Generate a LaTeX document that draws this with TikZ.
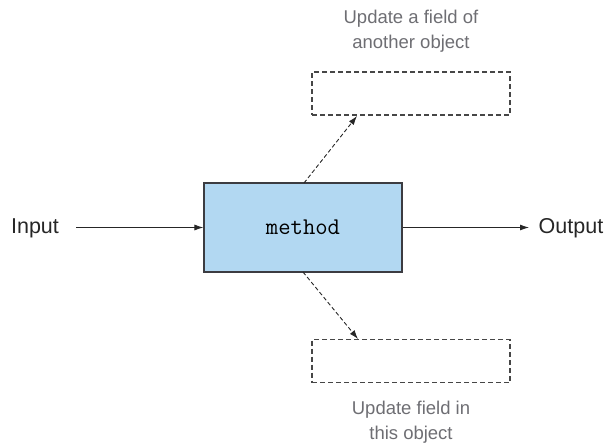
\documentclass[tikz,border=0pt]{standalone}
\usepackage{fontspec}
\setmainfont{Liberation Sans}
\usetikzlibrary{arrows.meta}
\definecolor{boxblue}{RGB}{178,216,242}
\definecolor{edgegray}{RGB}{60,60,65}
\definecolor{txtgray}{RGB}{110,110,115}
\definecolor{dashgray}{RGB}{70,70,70}
\tikzset{
  methodbox/.style={draw=edgegray, line width=1.1pt, fill=boxblue, minimum width=198pt, minimum height=89pt, inner sep=0pt},
  fieldbox/.style={draw=dashgray, line width=1.1pt, dash pattern=on 5pt off 3pt, minimum width=198pt, minimum height=43pt, inner sep=0pt},
  lbl/.style={font=\fontsize{21.5}{24}\selectfont, text=black!85, inner sep=0pt},
  note/.style={font=\fontsize{18.5}{25}\selectfont, text=txtgray, align=center, inner sep=0pt},
  flow/.style={line width=0.9pt, draw=black!85, -{Latex[length=9pt,width=6pt]}},
  sideflow/.style={line width=0.9pt, draw=black!85, dash pattern=on 4pt off 2.5pt, -{Latex[length=9pt,width=6pt]}}
}
\begin{document}
\begin{tikzpicture}[x=1pt,y=-1pt]
\useasboundingbox (0,0) rectangle (604,445);
\node[methodbox] (m) at (303,227.5) {\fontsize{24}{26}\selectfont\ttfamily method};
\node[fieldbox] (top) at (411,93.5) {};
\node[fieldbox] (bot) at (411,361) {};
\node[lbl] (in) at (35,228) {Input};
\node[lbl] (out) at (571,228) {Output};
\node[note] (ttxt) at (411,31.5) {Update a field of\\another object};
\node[note] (btxt) at (411,422.5) {Update field in\\this object};
\coordinate (ins) at (76,227.5);
\draw[flow] (ins) -- (m.west);
\coordinate (oute) at (529,227.5);
\draw[flow] (m.east) -- (oute);
\coordinate (mt) at (304,183);
\coordinate (tt) at (357,116);
\draw[sideflow] (mt) -- (tt);
\coordinate (mb) at (303,272);
\coordinate (bt) at (358,339);
\draw[sideflow] (mb) -- (bt);
\end{tikzpicture}
\end{document}
